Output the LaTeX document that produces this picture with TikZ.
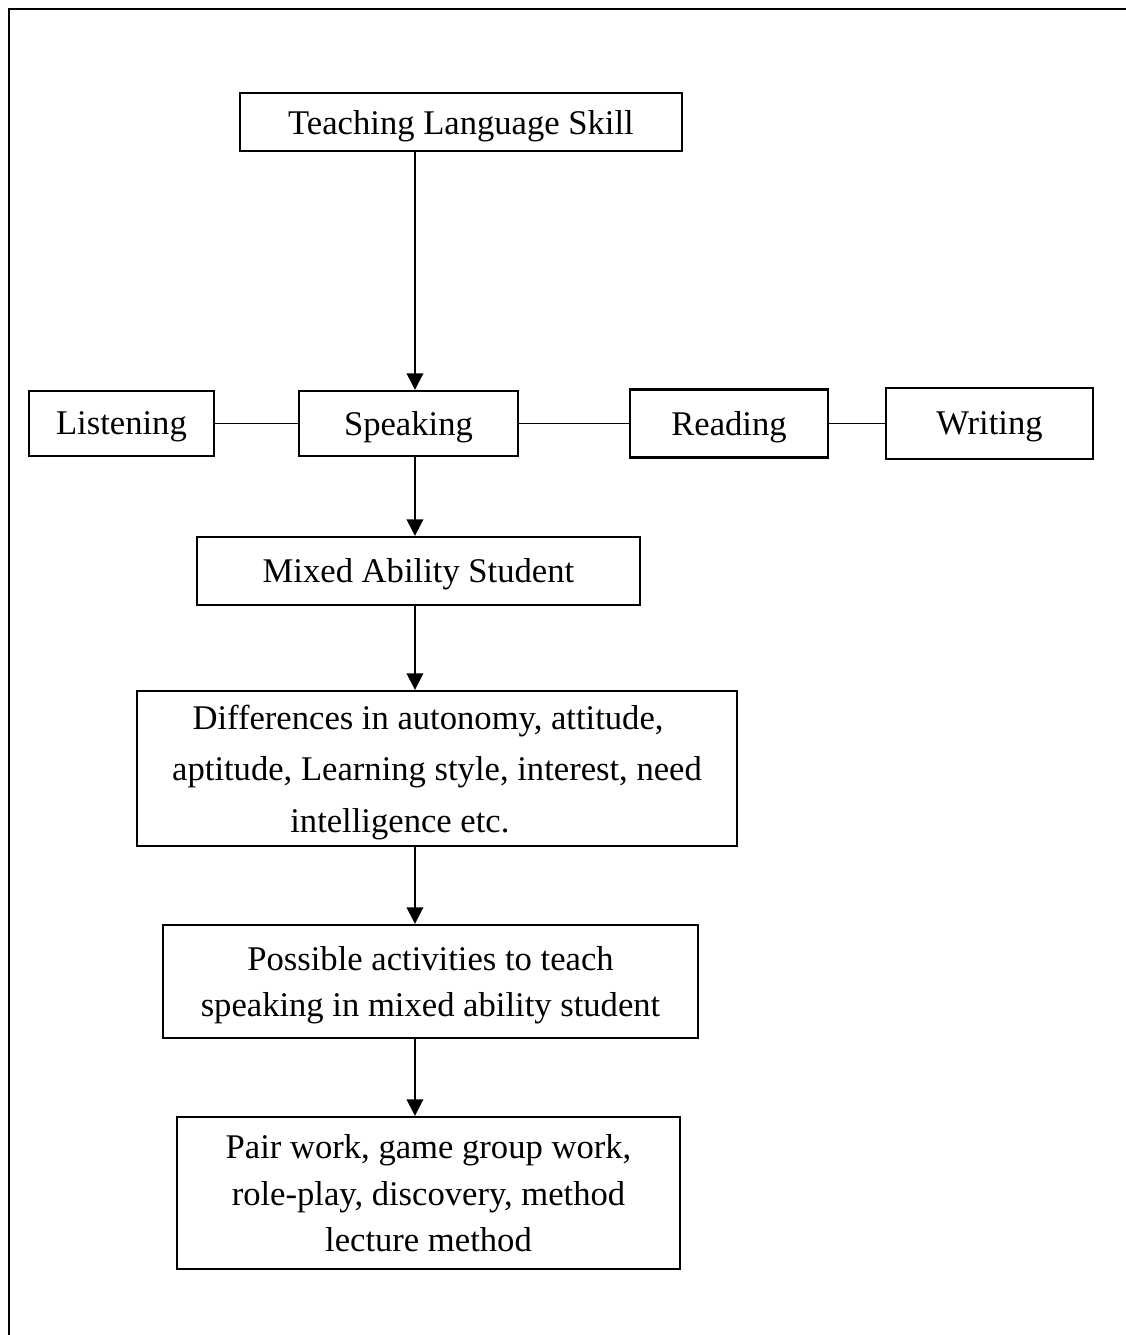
\documentclass[tikz,border=0pt]{standalone}
\usepackage{fontspec}
\setmainfont{Liberation Serif}
\usetikzlibrary{arrows.meta}

\begin{document}
\begin{tikzpicture}[
            node distance=2cm,
            box/.style={rectangle, draw, line width=0.8pt, inner sep=0pt, align=center, text depth=0pt, font=\fontsize{12.6}{17}\selectfont},
            arrow/.style={-{Triangle[length=6pt,width=6pt]}, line width=0.7pt},
            link/.style={line width=0.7pt}
        ]
        \useasboundingbox (0,0) rectangle (14.406,-17.08);

        % Page frame
        \draw[line width=1pt] (0.115,-17.08) -- (0.115,-0.115) -- (14.406,-0.115);

        % Top box
        \node[box, minimum width=5.655cm, minimum height=0.742cm] (teach) at (5.898,-1.561) {Teaching Language Skill};

        % The four skills
        \node[box, minimum width=2.802cm, minimum height=0.832cm, below of=teach, xshift=-0.672cm, yshift=-1.857cm] (speak) {Speaking};
        \node[box, minimum width=2.367cm, minimum height=0.832cm, left of=speak, xshift=-1.672cm] (listen) {Listening};
        \node[box, minimum width=2.533cm, minimum height=0.870cm, right of=speak, xshift=2.101cm] (read) {Reading};
        \node[box, minimum width=2.648cm, minimum height=0.908cm, right of=read, xshift=1.333cm] (write) {Writing};

        % Main column
        \node[box, minimum width=5.668cm, minimum height=0.870cm, below of=speak, xshift=0.128cm, yshift=0.113cm] (mixed) {Mixed Ability Student};
        \node[box, font=\fontsize{12.6}{18.7}\selectfont, minimum width=7.676cm, minimum height=1.983cm, below of=mixed, xshift=0.237cm, yshift=-0.527cm] (diff) {Differences in autonomy, attitude,\hspace*{0.23cm}\\aptitude, Learning style, interest, need\\intelligence etc.\hspace*{0.95cm}};
        \node[box, minimum width=6.845cm, minimum height=1.446cm, below of=diff, xshift=-0.083cm, yshift=-0.725cm] (poss) {Possible activities to teach\\speaking in mixed ability student};
        \node[box, minimum width=6.435cm, minimum height=1.945cm, below of=poss, xshift=-0.026cm, yshift=-0.706cm] (pair) {Pair work, game group work,\\role-play, discovery, method\\lecture method};

        % Vertical arrows
        \coordinate (spine) at (5.309,0);
        \draw[arrow] (teach.south -| spine) -- (speak.north -| spine);
        \draw[arrow] (speak.south -| spine) -- (mixed.north -| spine);
        \draw[arrow] (mixed.south -| spine) -- (diff.north -| spine);
        \draw[arrow] (diff.south -| spine) -- (poss.north -| spine);
        \draw[arrow] (poss.south -| spine) -- (pair.north -| spine);

        % Skill links
        \draw[link] (listen) -- (speak);
        \draw[link] (speak) -- (read);
        \draw[link] (read) -- (write);

    \end{tikzpicture}
\end{document}
